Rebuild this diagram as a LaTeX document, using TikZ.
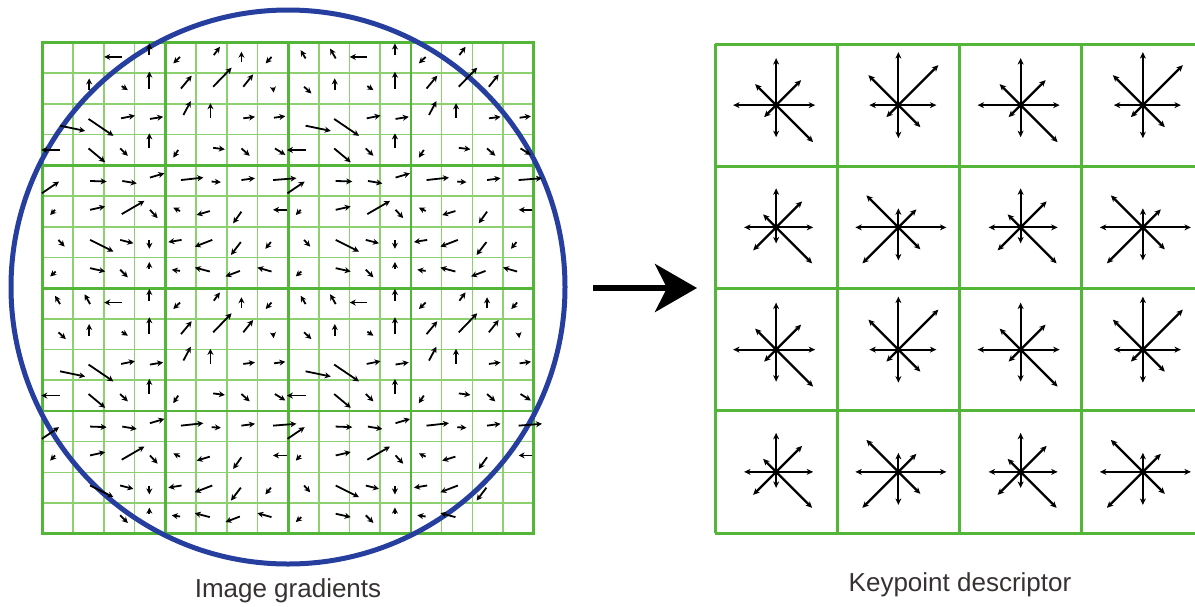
\documentclass[tikz,border=0pt]{standalone}
\usepackage{fontspec}
\setmainfont{Liberation Sans}
\usetikzlibrary{arrows.meta}

\definecolor{gridthin}{RGB}{140,208,112}
\definecolor{gridthick}{RGB}{84,182,56}
\definecolor{ringblue}{RGB}{38,62,158}
\definecolor{labelgray}{RGB}{55,50,50}

% one orientation histogram: centre, then arm lengths E W N S and diagonal offsets NE NW SW SE
\newcommand\orientstar[9]{%
  \draw[bin] (#1) -- ++(#2,0);
  \draw[bin] (#1) -- ++(-#3,0);
  \draw[bin] (#1) -- ++(0,-#4);
  \draw[bin] (#1) -- ++(0,#5);
  \draw[bin] (#1) -- ++(#6,-#6);
  \draw[bin] (#1) -- ++(-#7,-#7);
  \draw[bin] (#1) -- ++(-#8,#8);
  \draw[bin] (#1) -- ++(#9,#9);
  \fill (#1) circle[radius=3];
}

\begin{document}
\begin{tikzpicture}[x=1pt,y=-1pt,
  thinline/.style={draw=gridthin,line width=1.6pt},
  thickline/.style={draw=gridthick,line width=2.8pt},
  ring/.style={draw=ringblue,line width=5pt},
  grad/.style={line width=1.8pt,-{Stealth[length=6pt,width=6pt]}},
  bin/.style={line width=2.2pt,-{Stealth[length=6.5pt,width=6pt]}},
  cellbox/.style={draw=gridthick,line width=3pt},
  caption/.style={font=\fontsize{26}{30}\selectfont,text=labelgray,anchor=base,inner sep=0pt}
]
\useasboundingbox (0,0) rectangle (1195,606);

% ---------- sample grid (16 x 16) ----------
\begin{scope}[shift={(42.5,42.5)},x=30.7pt,y=-30.7pt]
  \foreach \i in {0,...,16} {
    \draw[thinline] (\i,0) -- (\i,16);
    \draw[thinline] (0,\i) -- (16,\i);
  }
  \foreach \i in {4,8,12} {
    \draw[thickline] (\i,0) -- (\i,16);
    \draw[thickline] (0,\i) -- (16,\i);
  }
  \draw[thickline] (0,0) rectangle (16,16);
\end{scope}

% Gaussian window
\draw[ring] (288,287) circle[radius=277];

% ---------- gradient samples: one 8 x 8 tile used in all four quadrants ----------
\begin{scope}[shift={(42.5,42.5)},x=30.7pt,y=-30.7pt]
\foreach \ax/\ay/\bx/\by/\tl/\tr/\bl/\br in {
  0.57/0.52/0.41/0.25/0/1/1/1, 1.55/0.52/1.37/0.20/0/1/1/1,
  2.58/0.47/2.01/0.47/1/1/1/1, 3.48/0.41/3.48/0.03/1/1/1/1,
  4.48/0.47/4.26/0.68/1/1/1/1, 5.58/0.41/5.78/0.14/1/1/1/1,
  6.48/0.65/6.48/0.30/1/0/1/1, 7.46/0.47/7.27/0.68/1/0/1/1,
  0.52/1.44/0.76/1.66/0/1/1/1, 1.52/1.55/1.52/1.17/1/1/1/1,
  2.58/1.42/2.78/1.55/1/1/1/1, 3.48/1.50/3.48/0.95/1/1/1/1,
  4.51/1.50/4.86/1.08/1/1/1/1, 5.56/1.44/6.16/0.82/1/1/1/1,
  6.54/1.44/6.86/1.04/1/1/1/1, 7.51/1.47/7.53/1.63/1/0/1/1,
  0.57/2.71/1.39/2.88/1/1/1/1, 1.50/2.49/2.31/3.04/1/1/1/1,
  2.56/2.47/3.01/2.38/1/1/1/1, 3.50/2.49/3.93/2.42/1/1/1/1,
  4.59/2.36/4.83/1.91/1/1/1/1, 5.47/2.47/5.47/1.98/1/1/1/1,
  6.54/2.47/6.92/2.42/1/1/1/1, 7.54/2.45/7.91/2.40/1/1/1/1,
  0.57/3.50/-0.04/3.50/1/1/1/1, 1.50/3.45/2.04/3.90/1/1/1/1,
  2.53/3.45/2.78/3.69/1/1/1/1, 3.48/3.45/3.48/2.96/1/1/1/1,
  4.42/3.50/4.26/3.75/1/1/1/1, 5.56/3.43/5.94/3.48/1/1/1/1,
  6.48/3.45/6.75/3.69/1/1/1/1, 7.57/3.45/7.91/3.66/1/1/1/1,
  -0.02/4.91/0.54/4.53/1/1/1/1, 1.55/4.51/2.09/4.53/1/1/1/1,
  2.60/4.51/3.07/4.59/1/1/1/1, 3.50/4.40/3.97/4.26/1/1/1/1,
  4.51/4.48/5.24/4.40/1/1/1/1, 5.51/4.53/5.81/4.55/1/1/1/1,
  6.48/4.48/6.92/4.42/1/1/1/1, 7.51/4.48/8.27/4.42/1/1/1/1,
  0.41/5.45/0.25/5.62/1/1/1/1, 1.55/5.45/2.04/5.34/1/1/1/1,
  2.58/5.59/3.32/5.16/1/1/1/1, 3.50/5.45/3.75/5.72/1/1/1/1,
  4.48/5.49/4.26/5.38/1/1/1/1, 5.45/5.49/5.02/5.62/1/1/1/1,
  6.48/5.51/6.21/5.89/1/1/1/1, 7.95/5.45/7.51/5.45/1/1/1/1,
  0.52/6.43/0.72/6.65/1/1/0/1, 1.55/6.43/2.31/6.81/1/1/1/1,
  2.53/6.43/2.96/6.54/1/1/1/1, 3.48/6.43/3.48/6.72/1/1/1/1,
  4.53/6.43/4.10/6.50/1/1/1/1, 5.53/6.43/4.96/6.65/1/1/1/1,
  6.46/6.50/6.14/6.92/1/1/1/1, 7.44/6.50/7.26/6.72/1/1/1/0,
  0.43/7.46/0.25/7.62/1/1/0/1, 1.55/7.35/2.04/7.46/1/1/0/1,
  2.53/7.40/2.78/7.65/1/1/1/1, 3.48/7.37/3.48/7.15/1/1/1/1,
  4.48/7.44/4.21/7.40/1/1/1/1, 5.45/7.46/4.96/7.33/1/1/1/1,
  6.43/7.44/5.96/7.62/1/1/1/0, 7.46/7.46/7.00/7.33/1/1/1/0} {
  \ifnum\tl=1 \draw[grad] (\ax,\ay) -- (\bx,\by); \fi
  \ifnum\tr=1 \draw[grad] (\ax+8,\ay) -- (\bx+8,\by); \fi
  \ifnum\bl=1 \draw[grad] (\ax,\ay+8) -- (\bx,\by+8); \fi
  \ifnum\br=1 \draw[grad] (\ax+8,\ay+8) -- (\bx+8,\by+8); \fi
}
\end{scope}

% ---------- arrow between the panels ----------
\coordinate (arrTail) at (593,288);
\coordinate (arrHead) at (697,288);
\draw[line width=6pt,-{Stealth[length=42pt,width=48pt,inset=12pt]}] (arrTail) -- (arrHead);

% ---------- descriptor grid (4 x 4) ----------
\begin{scope}[shift={(715,44)},x=122.25pt,y=-122.25pt]
  \foreach \i in {0,...,4} {
    \draw[cellbox] (\i,0) -- (\i,4);
    \draw[cellbox] (0,\i) -- (4,\i);
  }
  \foreach \r in {0,...,3}
    \foreach \c in {0,...,3}
      \coordinate (d-\r-\c) at (\c+0.5,\r+0.5);
\end{scope}

\foreach \r in {0,2} {
  \foreach \c in {0,2} {\orientstar{d-\r-\c}{39}{43}{47}{32}{25}{21}{12}{37}}
  \foreach \c in {1,3} {\orientstar{d-\r-\c}{38}{29}{53}{33}{40}{30}{12}{22}}
}
\foreach \r in {1,3} {
  \foreach \c in {0,2} {\orientstar{d-\r-\c}{37}{32}{39}{16}{26}{13}{23}{36}}
  \foreach \c in {1,3} {\orientstar{d-\r-\c}{48}{43}{19}{33}{18}{32}{36}{22}}
}

% ---------- captions ----------
\node[caption] (lblGrad) at (288,597) {Image gradients};
\node[caption] (lblDesc) at (960,591) {Keypoint descriptor};
\end{tikzpicture}
\end{document}
